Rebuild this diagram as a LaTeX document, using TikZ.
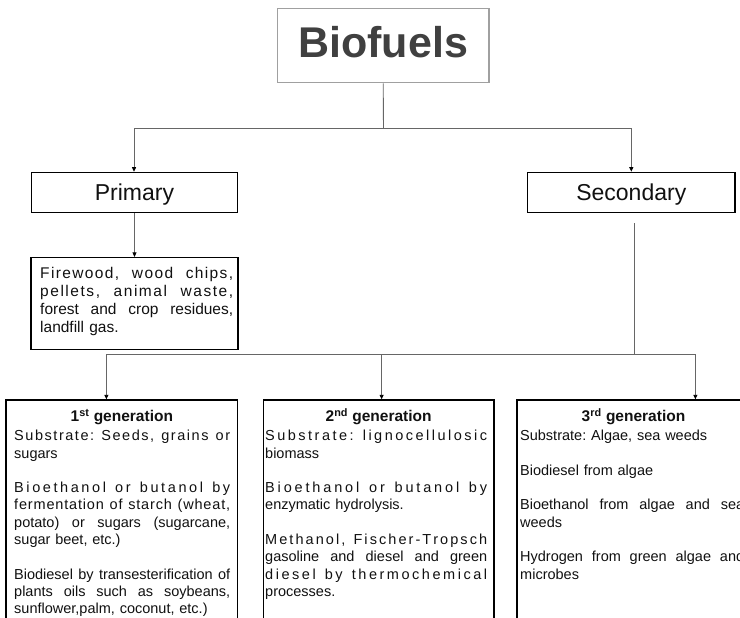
\documentclass[tikz,border=0pt]{standalone}
\usepackage{fontspec}
\setmainfont{Liberation Sans}
\usetikzlibrary{arrows.meta}
\definecolor{linegray}{HTML}{666666}
\definecolor{titlegray}{HTML}{404040}
\definecolor{bordergray}{HTML}{A0A0A0}
\definecolor{textblack}{HTML}{111111}
\hbadness=10000 \hfuzz=80pt
\frenchspacing
% justified line, stretch in word spaces
\newcommand{\jl}[2]{\makebox[#1][s]{\spaceskip=0.28em plus 5em\xspaceskip=0.28em plus 5em\relax #2}}
% justified line, stretch spread over letters and word spaces
\newcommand{\wordstretch}{2}
\def\lsend{lsend}
\def\lsl#1{\ifx#1\lsend\else#1\hskip0pt plus 1fil\relax\expandafter\lsl\fi}
\def\lsw#1 #2\lsstop{\lsl#1\lsend\unskip\ifx\relax#2\relax\else\hskip .28em plus \wordstretch fil\relax\lsw#2\lsstop\fi}
\newcommand{\ls}[2]{\leavevmode\hbox to #1{\lsw#2 \lsstop}}
\begin{document}
\begin{tikzpicture}[x=1pt,y=-1pt,
  conn/.style={draw=linegray, line width=0.9pt},
  arr/.style={conn, -{Triangle[length=4.5pt,width=4pt,color=black]}},
  box/.style={draw=black, line width=1.2pt, inner sep=0pt},
  lbl/.style={inner sep=0pt, anchor=base, text=textblack, font=\fontsize{23}{23}\selectfont},
  body/.style={inner sep=0pt, anchor=base west, align=left, text=textblack},
  head/.style={inner sep=0pt, anchor=base, text=textblack, font=\fontsize{15.5}{17}\selectfont\bfseries}]
\useasboundingbox (0,0) rectangle (740,618);
\clip (0,0) rectangle (740,618);
\fill[white] (0,0) rectangle (740,618);

% title
\node[box, draw=bordergray, minimum width=211.5pt, minimum height=74.4pt] (bio) at (383.2,45.5) {};
\node[inner sep=0pt, anchor=base, text=titlegray, font=\fontsize{43}{43}\selectfont\bfseries] (biot) at (383.2,57.3) {Biofuels};

% level 2
\node[box, minimum width=206.6pt, minimum height=40.4pt] (prim) at (134.5,192.5) {};
\node[lbl] (primt) at (134.5,200.7) {Primary};
\node[box, minimum width=207.3pt, minimum height=40pt] (sec) at (631.3,192.3) {};
\node[lbl] (sect) at (631.3,200.7) {Secondary};

% firewood
\node[box, minimum width=207pt, minimum height=92pt] (fire) at (134.5,303.5) {};
\node[body, text width=193pt, font=\fontsize{15.5}{18}\selectfont] (firet) at (40,278.5)
 {\renewcommand{\wordstretch}{6}%
  \ls{193pt}{Firewood, wood chips,}\\
  \ls{193pt}{pellets, animal waste,}\\
  \jl{193pt}{forest and crop residues,}\\
  landfill gas.};

% generation boxes
\node[box, minimum width=231.7pt, minimum height=260pt, anchor=north] (gen1) at (121.85,399.3) {};
\node[box, minimum width=230.7pt, minimum height=260pt, anchor=north] (gen2) at (378.65,399.3) {};
\node[box, minimum width=233pt, minimum height=260pt, anchor=north] (gen3) at (633.5,399.3) {};

\node[head] (gen1h) at (121.85,421.7) {1\textsuperscript{st} generation};
\node[head] (gen2h) at (378.65,421.7) {2\textsuperscript{nd} generation};
\node[head] (gen3h) at (633.5,421.7) {3\textsuperscript{rd} generation};

\node[body, text width=216pt, font=\fontsize{14.5}{17.3}\selectfont] (gen1t) at (14,440.7)
 {\ls{216pt}{Substrate: Seeds, grains or}\\
  sugars\\[17.3pt]
  \ls{216pt}{Bioethanol or butanol by}\\
  \ls{216pt}{fermentation of starch (wheat,}\\
  \jl{216pt}{potato) or sugars (sugarcane,}\\
  sugar beet, etc.)\\[17.3pt]
  \jl{216pt}{Biodiesel by transesterification of}\\
  \jl{216pt}{plants oils such as soybeans,}\\
  sunflower,palm, coconut, etc.)};

\node[body, text width=222pt, font=\fontsize{14.5}{17.3}\selectfont] (gen2t) at (265,440.7)
 {\ls{222pt}{Substrate: lignocellulosic}\\
  biomass\\[17.3pt]
  \ls{222pt}{Bioethanol or butanol by}\\
  enzymatic hydrolysis.\\[17.3pt]
  \ls{222pt}{Methanol, Fischer-Tropsch}\\
  \jl{222pt}{gasoline and diesel and green}\\
  \ls{222pt}{diesel by thermochemical}\\
  processes.};

\node[body, text width=224pt, font=\fontsize{14.5}{17.3}\selectfont] (gen3t) at (520,440.7)
 {Substrate: Algae, sea weeds\\[17.3pt]
  Biodiesel from algae\\[17.3pt]
  \jl{224pt}{Bioethanol from algae and sea}\\
  weeds\\[17.3pt]
  \jl{224pt}{Hydrogen from green algae and}\\
  microbes};

% connectors
\coordinate (tj) at (383.5,128);
\draw[conn] (bio.south) -- (tj);
\draw[arr] (tj) -| ([xshift=-0.5pt]prim.north);
\draw[arr] (tj) -| (sec.north);
\draw[arr] (prim.south) -- (fire.north);

\coordinate (secstart) at (634.3,223.3);
\coordinate (junc) at (634.3,354.3);
\coordinate (g1tap) at ([xshift=101pt]gen1.north west);
\coordinate (g2tap) at ([xshift=3pt]gen2.north);
\coordinate (g3tap) at ([xshift=179pt]gen3.north west);
\draw[conn] (secstart) -- (junc);
\draw[arr] (junc) -| (g1tap);
\draw[arr] (junc) -| (g3tap);
\draw[arr] (g2tap |- junc) -- (g2tap);
\end{tikzpicture}
\end{document}
